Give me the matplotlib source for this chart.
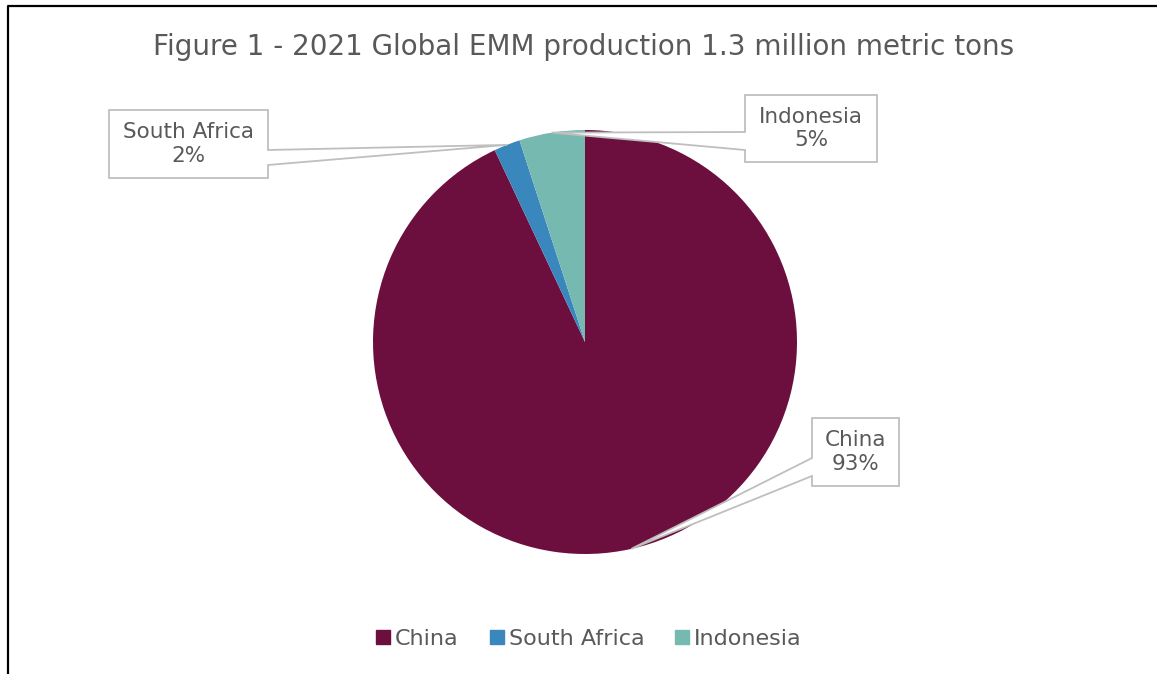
import numpy as np
import matplotlib.pyplot as plt
from matplotlib.patches import Polygon
from matplotlib.lines import Line2D

countries = ["China", "South Africa", "Indonesia"]
shares = [93, 2, 5]
colors = ["#6D0F3E", "#3A87BD", "#76B9B1"]
title = "Figure 1 - 2021 Global EMM production 1.3 million metric tons"

W, H = 1157, 674
grey = "#595959"
line_grey = "#BFBFBF"
plt.rcParams["font.family"] = ["DejaVu Sans"]

fig = plt.figure(figsize=(W / 100, H / 100), dpi=100)

# pie centre (585, 342) px, radius 212 px
cx, cy, r = 585, 342, 212
ax = fig.add_axes([(cx - r) / W, (H - cy - r) / H, 2 * r / W, 2 * r / H])
wedges, _ = ax.pie(shares, colors=colors, startangle=90, counterclock=False,
                   wedgeprops=dict(linewidth=0))
ax.set_xlim(-1, 1)
ax.set_ylim(-1, 1)
ax.set_aspect("equal")
ax.axis("off")

fig.text(584 / W, 1 - 47 / H, title, ha="center", va="center",
         fontsize=20, color=grey)

# callouts: box (x0, y0, x1, y1) in px from top-left, side with pointer, pointer base
boxes = {
    "South Africa": ((109, 110, 268, 178), "right", (150, 165)),
    "Indonesia": ((745, 95, 877, 162), "left", (132, 150)),
    "China": ((812, 418, 899, 486), "left", (458, 476)),
}

fig.canvas.draw()
inv = fig.transFigure.inverted()


def to_fig(x, y):
    return (x / W, 1 - y / H)


for w, name, val in zip(wedges, countries, shares):
    mid = np.deg2rad((w.theta1 + w.theta2) / 2)
    tip_disp = ax.transData.transform((np.cos(mid), np.sin(mid)))
    tip = inv.transform(tip_disp)
    (x0, y0, x1, y1), side, (b0, b1) = boxes[name]
    if side == "right":
        pts = [to_fig(x0, y0), to_fig(x1, y0), to_fig(x1, b0), tuple(tip),
               to_fig(x1, b1), to_fig(x1, y1), to_fig(x0, y1)]
    else:
        pts = [to_fig(x0, y0), to_fig(x1, y0), to_fig(x1, y1), to_fig(x0, y1),
               to_fig(x0, b1), tuple(tip), to_fig(x0, b0)]
    fig.add_artist(Polygon(pts, closed=True, transform=fig.transFigure,
                           facecolor="white", edgecolor=line_grey, linewidth=1.3,
                           zorder=5))
    fig.text((x0 + x1) / 2 / W, 1 - (y0 + y1) / 2 / H, f"{name}\n{val}%",
             ha="center", va="center", fontsize=15.5, color=grey,
             linespacing=1.2, zorder=6)

handles = [Line2D([], [], marker="s", linestyle="", markersize=10,
                  markerfacecolor=c, markeredgecolor=c) for c in colors]
fig.legend(handles, countries, loc="center", bbox_to_anchor=(588 / W, 1 - 639 / H),
           ncol=3, frameon=False, fontsize=16, labelcolor=grey,
           handletextpad=0.15, columnspacing=1.3, handlelength=0.8)

# chart border (left and top visible)
fig.add_artist(Line2D([8 / W, 8 / W, 1], [0, 1 - 6 / H, 1 - 6 / H],
                      transform=fig.transFigure, color="black", linewidth=1.6))

fig.savefig("out.png", dpi=100, facecolor="white")
